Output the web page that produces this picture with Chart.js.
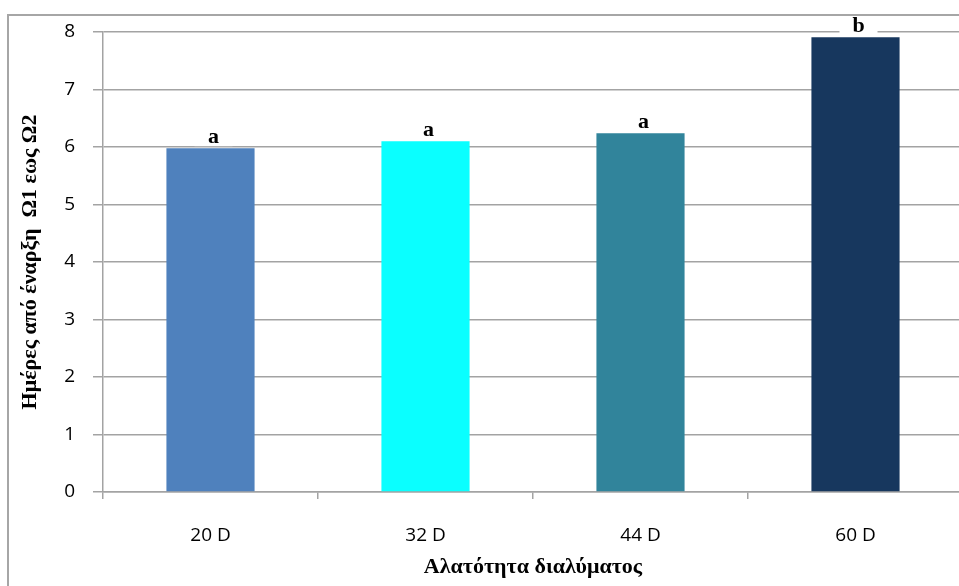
<!DOCTYPE html>
<html>
<head>
<meta charset="utf-8">
<script src="https://cdn.jsdelivr.net/npm/chart.js@4/dist/chart.umd.min.js"></script>
<style>
  html, body { margin: 0; padding: 0; background: #fff; overflow: hidden; }
  #wrap { width: 980px; height: 586px; }
</style>
</head>
<body>
<div id="wrap"><canvas id="chart" width="980" height="586"></canvas></div>
<script>
// data
var categories = ['20 D', '32 D', '44 D', '60 D'];
var days = [5.98, 6.10, 6.24, 7.91];
var letters = ['a', 'a', 'a', 'b'];
var barColors = ['#4f81bd', '#0affff', '#31849b', '#17375e'];
var yTicks = [0, 1, 2, 3, 4, 5, 6, 7, 8];

var gridGray = '#a3a3a3';

// outer chart frame (left and top edges visible, the rest is cut off)
var framePlugin = {
    id: 'frame',
    afterDraw: function(chart) {
        var ctx = chart.ctx;
        ctx.save();
        ctx.strokeStyle = '#a6a6a6';
        ctx.lineWidth = 2;
        ctx.strokeRect(8, 15, 1200, 900);
        ctx.restore();
    }
};

// significance letters above the bars, with white box like the original
var letterPlugin = {
    id: 'letters',
    afterDatasetsDraw: function(chart) {
        var ctx = chart.ctx;
        var meta = chart.getDatasetMeta(0);
        ctx.save();
        ctx.font = 'bold 22px "Liberation Serif", "DejaVu Serif", serif';
        ctx.textAlign = 'center';
        ctx.textBaseline = 'alphabetic';
        meta.data.forEach(function(bar, i) {
            var x = bar.x + 3;
            var y = bar.y - 5;
            ctx.fillStyle = '#ffffff';
            ctx.fillRect(x - 19, y - 17, 38, 20);
            ctx.fillStyle = '#000000';
            ctx.fillText(letters[i], x, y);
        });
        ctx.restore();
    }
};

var ctx = document.getElementById('chart').getContext('2d');
var barChart = new Chart(ctx, {
    type: 'bar',
    data: {
        labels: categories,
        datasets: [{
            data: days,
            backgroundColor: barColors,
            borderWidth: 0,
            categoryPercentage: 1,
            barPercentage: 0.41
        }]
    },
    options: {
        responsive: false,
        animation: false,
        layout: { padding: { left: 0, top: 32, right: 17, bottom: 0 } },
        plugins: {
            legend: { display: false },
            tooltip: { enabled: false }
        },
        scales: {
            x: {
                afterFit: function(scale) { scale.height = 94; },
                grid: {
                    offset: true,
                    drawOnChartArea: false,
                    color: gridGray,
                    lineWidth: 1.5,
                    tickLength: 7
                },
                border: { color: gridGray, width: 1.5 },
                ticks: {
                    color: '#000',
                    padding: 25,
                    font: { family: '"Open Sans", "Liberation Sans", sans-serif', size: 19 }
                },
                title: {
                    display: true,
                    text: 'Αλατότητα διαλύματος',
                    color: '#000',
                    padding: { top: 0, bottom: 5 },
                    font: { family: '"Liberation Serif", "DejaVu Serif", serif', size: 22, weight: 'bold' }
                }
            },
            y: {
                min: yTicks[0],
                max: yTicks[yTicks.length - 1],
                afterFit: function(scale) { scale.width = 103; },
                afterBuildTicks: function(scale) {
                    scale.ticks = yTicks.map(function(v) { return { value: v }; });
                },
                grid: {
                    color: gridGray,
                    lineWidth: 1.5,
                    tickLength: 10
                },
                border: { color: gridGray, width: 1.5 },
                ticks: {
                    color: '#000',
                    padding: 18,
                    font: { family: '"Open Sans", "Liberation Sans", sans-serif', size: 19 }
                },
                title: {
                    display: true,
                    text: 'Ημέρες από έναρξη  Ω1 εως Ω2',
                    color: '#000',
                    padding: { top: 17, bottom: 0 },
                    font: { family: '"Liberation Serif", "DejaVu Serif", serif', size: 22, weight: 'bold' }
                }
            }
        }
    },
    plugins: [framePlugin, letterPlugin]
});
</script>
</body>
</html>
